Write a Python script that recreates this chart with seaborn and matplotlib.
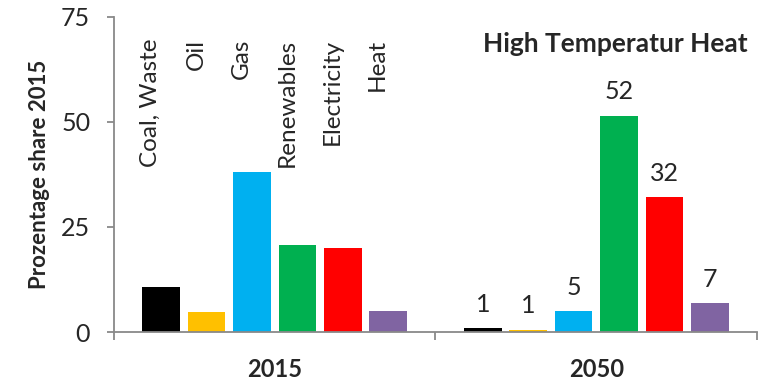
import matplotlib

matplotlib.use("Agg")
import matplotlib.pyplot as plt
import pandas as pd
import seaborn as sns

CARRIERS = ["Coal, Waste", "Oil", "Gas", "Renewables", "Electricity", "Heat"]
YEARS = ["2015", "2050"]
SHARE_2015 = [10.7, 4.8, 38.1, 20.8, 20.0, 5.0]
SHARE_2050 = [0.9, 0.6, 4.9, 51.5, 32.1, 6.9]
LABELS_2050 = ["1", "1", "5", "52", "32", "7"]
COLORS = ["#000000", "#FFC000", "#00B0F0", "#00B050", "#FF0000", "#8064A2"]

TITLE = "High Temperatur Heat"
Y_LABEL = "Prozentage share 2015"
Y_TICKS = [0, 25, 50, 75]


def build_frame() -> pd.DataFrame:
    rows = []
    for year, values in zip(YEARS, [SHARE_2015, SHARE_2050]):
        for carrier, value in zip(CARRIERS, values):
            rows.append({"year": year, "carrier": carrier, "share": value})
    return pd.DataFrame(rows)


def main() -> None:
    df = build_frame()
    sns.set_theme(style="white")
    plt.rcParams["font.family"] = ["Lato", "DejaVu Sans"]

    fig = plt.figure(figsize=(7.64, 3.83), dpi=100)
    ax = fig.add_axes([0.149, 0.133, 0.842, 0.823])

    sns.barplot(
        data=df,
        x="year",
        y="share",
        hue="carrier",
        order=YEARS,
        hue_order=CARRIERS,
        palette=COLORS,
        width=0.846,
        gap=0.17,
        saturation=1,
        linewidth=0,
        legend=False,
        ax=ax,
    )

    grey = "#898989"
    for side in ["top", "right"]:
        ax.spines[side].set_visible(False)
    for side in ["left", "bottom"]:
        ax.spines[side].set_color(grey)
        ax.spines[side].set_linewidth(1.3)
        ax.spines[side].set_zorder(3)

    ax.set_xlim(-0.5, 1.5)
    ax.set_ylim(0, 75)
    ax.set_yticks(Y_TICKS)
    ax.tick_params(axis="y", direction="out", length=5, width=1.3, color=grey,
                   left=True, pad=12, labelsize=18)
    ax.tick_params(axis="x", which="major", length=0, pad=19, labelsize=17)
    ax.set_xticks([-0.5, 0.5, 1.5], minor=True)
    ax.tick_params(axis="x", which="minor", direction="out", length=6, width=1.3,
                   color=grey, bottom=True)
    for label in ax.get_xticklabels():
        label.set_fontweight("bold")

    ax.set_xlabel("")
    ax.set_ylabel(Y_LABEL, fontsize=16, fontweight="bold", labelpad=8)

    # carrier names above the 2015 bars, values above the 2050 bars
    for container, name, label in zip(ax.containers, CARRIERS, LABELS_2050):
        bar_2015 = container.patches[0]
        ax.text(bar_2015.get_x() + bar_2015.get_width() / 2, 69.8, name,
                rotation=90, ha="right", va="top", fontsize=17.5)
        ax.bar_label(container, labels=["", label], padding=9, fontsize=18)

    ax.text(0.985, 0.915, TITLE, transform=ax.transAxes, ha="right", va="center",
            fontsize=19, fontweight="bold")

    fig.savefig("out.png", dpi=100)
    plt.close(fig)


if __name__ == "__main__":
    main()
